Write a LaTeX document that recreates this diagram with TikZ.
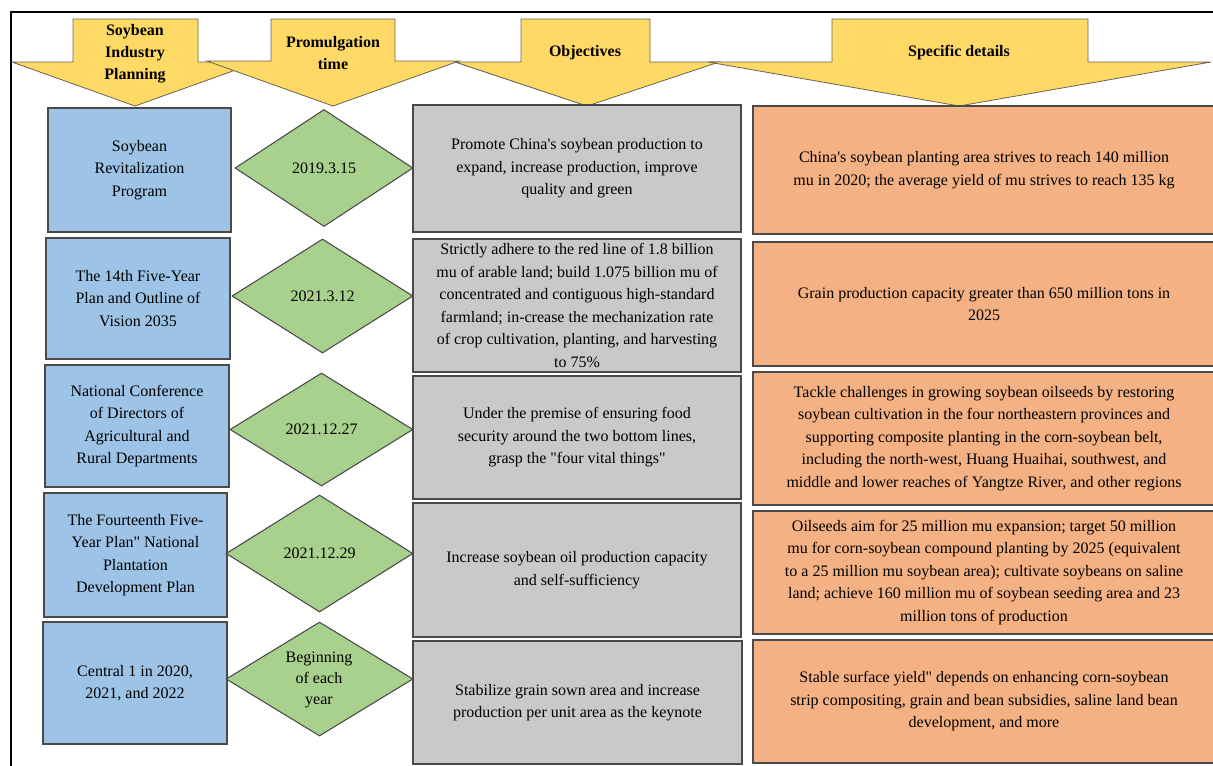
\documentclass[tikz,border=0pt]{standalone}
\usepackage{fontspec}
\setmainfont{Liberation Serif}[Ligatures=TeXOff]
\usetikzlibrary{shapes.geometric}
\definecolor{hdr}{HTML}{FFD966}
\definecolor{bluef}{HTML}{9DC3E6}
\definecolor{greenf}{HTML}{A9D18E}
\definecolor{grayf}{HTML}{C9C9C9}
\definecolor{orangef}{HTML}{F4B183}
\definecolor{edge}{HTML}{4A4A4A}
\definecolor{hedge}{HTML}{6B6350}
\tikzset{
  cell/.style 2 args={draw=edge, line width=0.8pt, minimum width=#1*0.75pt, minimum height=#2*0.75pt, inner sep=0pt, align=center, font=\fontsize{12}{16.9}\selectfont},
  bluebox/.style={fill=bluef},
  graybox/.style={fill=grayf},
  orangebox/.style={fill=orangef},
  dia/.style 2 args={diamond, draw=edge, line width=0.8pt, fill=greenf, minimum width=#1*0.75pt, minimum height=#2*0.75pt, inner sep=0pt},
  diatext/.style={align=center, font=\fontsize{12}{15.8}\selectfont, inner sep=0pt},
  hdrarrow/.style={fill=hdr, draw=hedge, line width=0.6pt, line join=miter},
  hdrtext/.style={align=center, font=\bfseries\fontsize{12}{16.5}\selectfont, inner sep=0pt}
}
\begin{document}
\begin{tikzpicture}[x=0.75pt,y=-0.75pt]
\useasboundingbox (0,0) rectangle (1213,765);
% frame
\draw[line width=1.5pt, black] (11,766) -- (11,12) -- (1214,12);
% header arrows
\draw[hdrarrow] (12,62) -- (73,62) -- (73,19) -- (198,19) -- (198,62) -- (258,62) -- (135,106) -- cycle;
\draw[hdrarrow] (207,61) -- (271,61) -- (271,19) -- (395,19) -- (395,61) -- (459,61) -- (333,106) -- cycle;
\draw[hdrarrow] (455,62) -- (521,62) -- (521,19) -- (650,19) -- (650,62) -- (719,62) -- (587,106) -- cycle;
\draw[hdrarrow] (708,62) -- (832,62) -- (832,19) -- (1088,19) -- (1088,62) -- (1211,62) -- (959,106) -- cycle;
\node[hdrtext] (h1) at (135,54) {Soybean\\Industry\\Planning};
\node[hdrtext] (h2) at (333,53) {Promulgation\\time};
\node[hdrtext] (h3) at (585,53) {Objectives};
\node[hdrtext] (h4) at (959,53) {Specific details};
% blue boxes
\node[cell={183}{124}, bluebox] (b1) at (139.5,170) {Soybean\\Revitalization\\Program};
\node[cell={184}{121}, bluebox] (b2) at (138,298.5) {The 14th Five-Year\\Plan and Outline of\\Vision 2035};
\node[cell={184}{122}, bluebox] (b3) at (137,426) {National Conference\\of Directors of\\Agricultural and\\Rural Departments};
\node[cell={183}{124}, bluebox] (b4) at (135.5,555) {The Fourteenth Five-\\Year Plan" National\\Plantation\\Development Plan};
\node[cell={184}{122}, bluebox] (b5) at (135,683) {Central 1 in 2020,\\2021, and 2022};
% diamonds
\node[dia={178}{117}] (d1) at (324,168) {};
\node[diatext] (d1t) at (d1) {2019.3.15};
\node[dia={181}{114}] (d2) at (322.5,296) {};
\node[diatext] (d2t) at (d2) {2021.3.12};
\node[dia={183}{113}] (d3) at (321.5,429.5) {};
\node[diatext] (d3t) at (d3) {2021.12.27};
\node[dia={187}{117}] (d4) at (319.5,553.5) {};
\node[diatext] (d4t) at (d4) {2021.12.29};
\node[dia={187}{114}] (d5) at (319.5,679) {};
\node[diatext] (d5t) at (319,680) {Beginning\\of each\\year};
% gray boxes
\node[cell={328}{127}, graybox] (g1) at (577,168.5) {Promote China's soybean production to\\expand, increase production, improve\\quality and green};
\node[cell={328}{133}, graybox] (g2) at (577,305.5) {Strictly adhere to the red line of 1.8 billion\\mu of arable land; build 1.075 billion mu of\\concentrated and contiguous high-standard\\farmland; in-crease the mechanization rate\\of crop cultivation, planting, and harvesting\\to 75\%};
\node[cell={328}{123}, graybox] (g3) at (577,437.5) {Under the premise of ensuring food\\security around the two bottom lines,\\grasp the "four vital things"};
\node[cell={328}{134}, graybox] (g4) at (577,570) {Increase soybean oil production capacity\\and self-sufficiency};
\node[cell={329}{123}, graybox] (g5) at (577.5,702.5) {Stabilize grain sown area and increase\\production per unit area as the keynote};
% orange boxes
\node[cell={462}{128}, orangebox] (o1) at (984,170) {China's soybean planting area strives to reach 140 million\\mu in 2020; the average yield of mu strives to reach 135 kg};
\node[cell={462}{124}, orangebox] (o2) at (984,304) {Grain production capacity greater than 650 million tons in\\2025};
\node[cell={462}{133}, orangebox] (o3) at (984,438.5) {Tackle challenges in growing soybean oilseeds by restoring\\soybean cultivation in the four northeastern provinces and\\supporting composite planting in the corn-soybean belt,\\including the north-west, Huang Huaihai, southwest, and\\middle and lower reaches of Yangtze River, and other regions};
\node[cell={462}{123}, orangebox] (o4) at (984,572.5) {Oilseeds aim for 25 million mu expansion; target 50 million\\mu for corn-soybean compound planting by 2025 (equivalent\\to a 25 million mu soybean area); cultivate soybeans on saline\\land; achieve 160 million mu of soybean seeding area and 23\\million tons of production};
\node[cell={462}{123}, orangebox] (o5) at (984,701.5) {Stable surface yield" depends on enhancing corn-soybean\\strip compositing, grain and bean subsidies, saline land bean\\development, and more};
\end{tikzpicture}
\end{document}
